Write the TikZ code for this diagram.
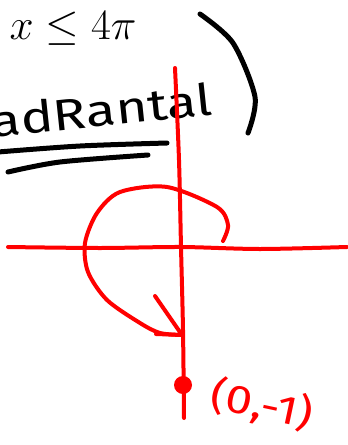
\documentclass[tikz,border=0pt]{standalone}
\usepackage{fontspec}
\newfontfamily\hand{Fira Sans}
\begin{document}
\begin{tikzpicture}[x=1pt,y=-1pt,
  redline/.style={red, line width=4pt, line cap=round, line join=round},
  blackline/.style={black, line width=5pt, line cap=round, line join=round},
  handtext/.style={inner sep=0pt, font=\hand\fontsize{#1}{#1}\selectfont}]
\useasboundingbox (0,0) rectangle (348,445);
% typeset inequality
\node[anchor=west, inner sep=0pt, font=\LARGE, scale=2.5] (ineq) at (9,29) {$x \le 4\pi$};
% handwritten word and parenthesis
\node[handtext=44, anchor=base west, rotate=6, xscale=1.25] (word) at (-8,138) {adRantal};
\draw[blackline] plot[smooth] coordinates {(200,14) (233,43) (255,97) (248,133)};
\draw[blackline] plot[smooth] coordinates {(-2,152) (80,146) (167,143)};
\draw[blackline] plot[smooth] coordinates {(8,172) (60,162) (148,155)};
% axes
\draw[redline] plot[smooth] coordinates {(175,68) (179,160) (181,247) (183,330) (184,418)};
\draw[redline] plot[smooth] coordinates {(8,247) (100,248) (181,247) (260,249) (347,247)};
% rotation curve
\coordinate (tip) at (182,335);
\draw[redline] plot[smooth] coordinates {(223,241) (228,225) (217,207) (167,187) (120,192) (97,213) (85,243) (88,272) (107,300) (140,323) (160,333) (182,335)};
\draw[redline] (155,296) -- (tip) -- (156,334);
% point and label
\node[circle, fill=red, minimum size=18pt, inner sep=0pt] (pt) at (183,385) {};
\node[handtext=40, red, rotate=-12, xscale=1.2] (lbl) at (262,405) {(0,-1)};
\end{tikzpicture}
\end{document}
